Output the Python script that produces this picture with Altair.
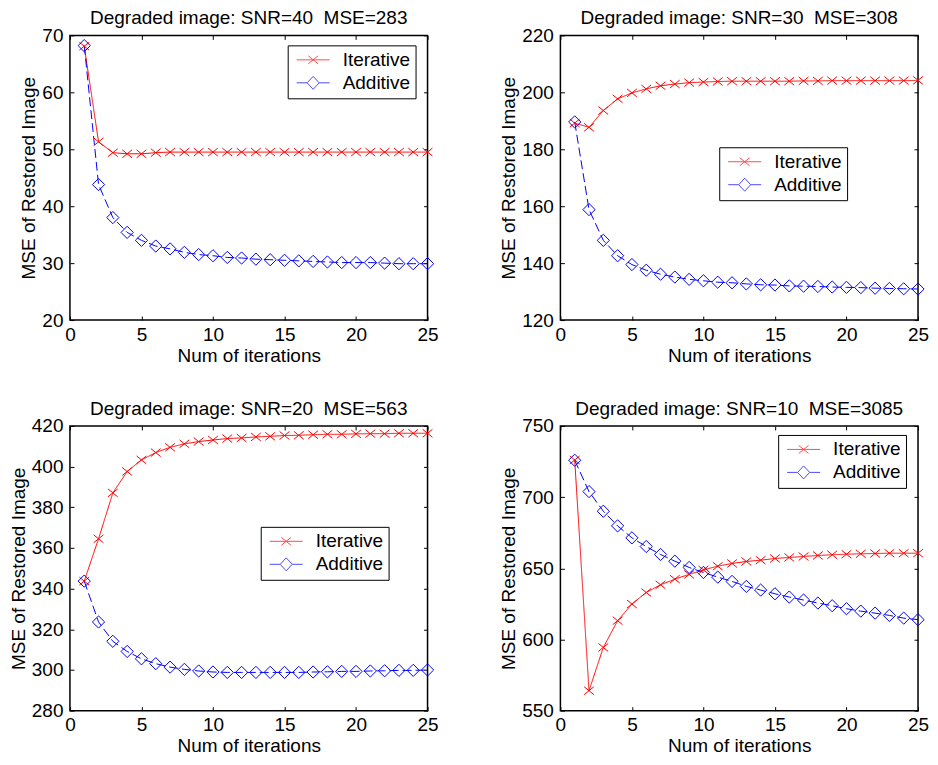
import altair as alt
import pandas as pd

FONT = "Liberation Sans"
FS = 19
SERIES = ["Iterative", "Additive"]
COLORS = ["#ff0000", "#0000ff"]

iters = list(range(1, 26))
x_ticks = [0, 5, 10, 15, 20, 25]

titles = [
    "Degraded image: SNR=40\u00a0 MSE=283",
    "Degraded image: SNR=30\u00a0 MSE=308",
    "Degraded image: SNR=20\u00a0 MSE=563",
    "Degraded image: SNR=10\u00a0 MSE=3085",
]

p1_iterative = [68.1, 51.3, 49.4, 49.2, 49.2, 49.4, 49.5, 49.5, 49.5, 49.5, 49.5, 49.5, 49.5,
                49.5, 49.5, 49.5, 49.5, 49.5, 49.5, 49.5, 49.5, 49.5, 49.5, 49.5, 49.5]
p1_additive = [68.2, 43.8, 38.0, 35.4, 34.0, 33.0, 32.5, 31.9, 31.5, 31.3, 31.0, 30.9, 30.7,
               30.6, 30.5, 30.4, 30.3, 30.2, 30.1, 30.1, 30.1, 30.0, 29.9, 29.9, 29.9]

p2_iterative = [189.2, 187.7, 193.6, 197.7, 199.8, 201.2, 202.3, 202.9, 203.4, 203.6, 203.8, 203.9, 203.9,
                203.9, 203.9, 203.9, 204.0, 204.0, 204.1, 204.1, 204.1, 204.1, 204.1, 204.1, 204.2]
p2_additive = [189.6, 158.8, 148.0, 142.6, 139.5, 137.5, 136.1, 135.1, 134.3, 133.8, 133.3, 133.1, 132.7,
               132.4, 132.3, 132.0, 131.9, 131.8, 131.6, 131.5, 131.4, 131.2, 131.1, 131.0, 130.9]

p3_iterative = [343.7, 364.5, 387.1, 397.6, 403.3, 406.9, 409.5, 411.2, 412.3, 413.1, 413.8, 414.1, 414.6,
                414.9, 415.3, 415.4, 415.7, 415.9, 415.9, 416.1, 416.2, 416.2, 416.4, 416.4, 416.4]
p3_additive = [343.7, 323.6, 314.1, 309.1, 305.5, 303.1, 301.4, 300.3, 299.5, 299.0, 298.8, 298.8, 298.8,
               298.8, 298.8, 298.8, 299.0, 299.1, 299.3, 299.3, 299.5, 299.6, 299.8, 299.8, 300.0]

p4_iterative = [726.1, 564.0, 594.4, 613.2, 624.9, 633.0, 638.4, 642.4, 645.7, 648.9, 651.5, 653.4, 654.8,
                655.7, 656.9, 657.6, 658.3, 659.0, 659.5, 659.9, 660.2, 660.4, 660.6, 660.6, 660.6]
p4_additive = [725.9, 703.9, 690.1, 679.8, 671.4, 665.3, 659.7, 655.0, 650.6, 647.1, 643.8, 640.8, 637.3,
               634.7, 632.1, 629.8, 627.7, 625.6, 623.7, 621.6, 619.9, 618.5, 616.9, 615.0, 613.9]

y_domains = [[20, 70], [120, 220], [280, 420], [550, 750]]
y_steps = [10, 20, 20, 50]
legend_pos = [(218, 10), (159, 112), (191, 101), (218, 9)]

W, H = 358, 285
TICK = 4

X_MARK = "M-0.8,-0.65L0.8,0.65M-0.8,0.65L0.8,-0.65"
LEG_ITER = "M-2.36,0H2.36M-0.7,-0.57L0.7,0.57M-0.7,0.57L0.7,-0.57"
LEG_ADD = "M-2.36,0H-0.86M0.86,0H2.36M0,-0.93L0.86,0L0,0.93L-0.86,0Z"


def axis(orient, values, title=None, labels=True):
    kw = dict(
        orient=orient, values=values, domain=False, grid=False,
        tickColor="black", tickSize=TICK, tickWidth=1, offset=-TICK,
        labels=labels, labelFlush=False, labelFont=FONT, labelFontSize=FS, labelColor="black",
        titleFont=FONT, titleFontSize=FS, titleFontWeight="normal", titleColor="black",
        title=title, minExtent=0,
    )
    if orient == "bottom":
        kw.update(labelPadding=5, titlePadding=2)
    if orient == "left":
        kw.update(labelPadding=7, titlePadding=3)
    if orient in ("top", "right"):
        kw.update(maxExtent=0)
    return alt.Axis(**kw)


def panel(title, it_vals, ad_vals, ydom, ystep, lpos):
    df = pd.DataFrame({
        "iter": iters + iters,
        "mse": it_vals + ad_vals,
        "series": ["Iterative"] * len(iters) + ["Additive"] * len(iters),
    })
    yticks = list(range(ydom[0], ydom[1] + 1, ystep))
    xs = alt.Scale(domain=[0, 25], nice=False, zero=False)
    ys = alt.Scale(domain=ydom, nice=False, zero=False)
    base = alt.Chart(df)

    lines = base.mark_line(strokeWidth=1).encode(
        x=alt.X("iter:Q", scale=xs, axis=axis("bottom", x_ticks, "Num of iterations")),
        y=alt.Y("mse:Q", scale=ys, axis=axis("left", yticks, "MSE of Restored Image")),
        color=alt.Color("series:N", scale=alt.Scale(domain=SERIES, range=COLORS), legend=None),
        strokeDash=alt.StrokeDash("series:N", scale=alt.Scale(domain=SERIES, range=[[1, 0], [9, 4]]), legend=None),
    )
    pts = base.mark_point(filled=False, strokeWidth=1, size=150, opacity=1).encode(
        x=alt.X("iter:Q", scale=xs, axis=axis("top", x_ticks, labels=False)),
        y=alt.Y("mse:Q", scale=ys, axis=axis("right", yticks, labels=False)),
        color=alt.Color("series:N", scale=alt.Scale(domain=SERIES, range=COLORS), legend=None),
        shape=alt.Shape("series:N", scale=alt.Scale(domain=SERIES, range=[X_MARK, "diamond"]), legend=None),
    )
    leg = alt.Legend(
        title=None, orient="none", legendX=lpos[0], legendY=lpos[1],
        fillColor="white", strokeColor="black", padding=5, cornerRadius=0,
        labelFont=FONT, labelFontSize=FS, labelColor="black",
        labelExpr="datum.label + '\u00a0\u00a0'",
        symbolSize=196, symbolStrokeWidth=1, symbolOffset=11, labelOffset=20, rowPadding=3,
    )
    legend_layer = base.mark_point(filled=False, strokeWidth=1).encode(
        x=alt.X("iter:Q", scale=xs, axis=None),
        y=alt.Y("mse:Q", scale=ys, axis=None),
        color=alt.Color("series:N", scale=alt.Scale(domain=SERIES, range=COLORS), legend=leg),
        shape=alt.Shape("series:N", scale=alt.Scale(domain=SERIES, range=[LEG_ITER, LEG_ADD]), legend=leg),
    ).transform_filter("false")

    return alt.layer(lines, pts, legend_layer).resolve_scale(
        color="independent", shape="independent"
    ).resolve_axis(x="independent", y="independent").properties(
        width=W, height=H,
        title=alt.Title(title, font=FONT, fontSize=FS, fontWeight="normal", color="black",
                        anchor="middle", frame="group", offset=-2),
    )


panels = [
    panel(titles[0], p1_iterative, p1_additive, y_domains[0], y_steps[0], legend_pos[0]),
    panel(titles[1], p2_iterative, p2_additive, y_domains[1], y_steps[1], legend_pos[1]),
    panel(titles[2], p3_iterative, p3_additive, y_domains[2], y_steps[2], legend_pos[2]),
    panel(titles[3], p4_iterative, p4_additive, y_domains[3], y_steps[3], legend_pos[3]),
]

chart = alt.concat(*panels, columns=2, spacing={"row": 33, "column": 59}).resolve_scale(
    color="independent", shape="independent", strokeDash="independent"
).properties(
    padding={"left": 0, "top": 0, "right": 0, "bottom": 0},
    background="white",
).configure_view(stroke="black", strokeWidth=1.5)

chart.save("out.html", embed_options={"renderer": "svg", "actions": False})
